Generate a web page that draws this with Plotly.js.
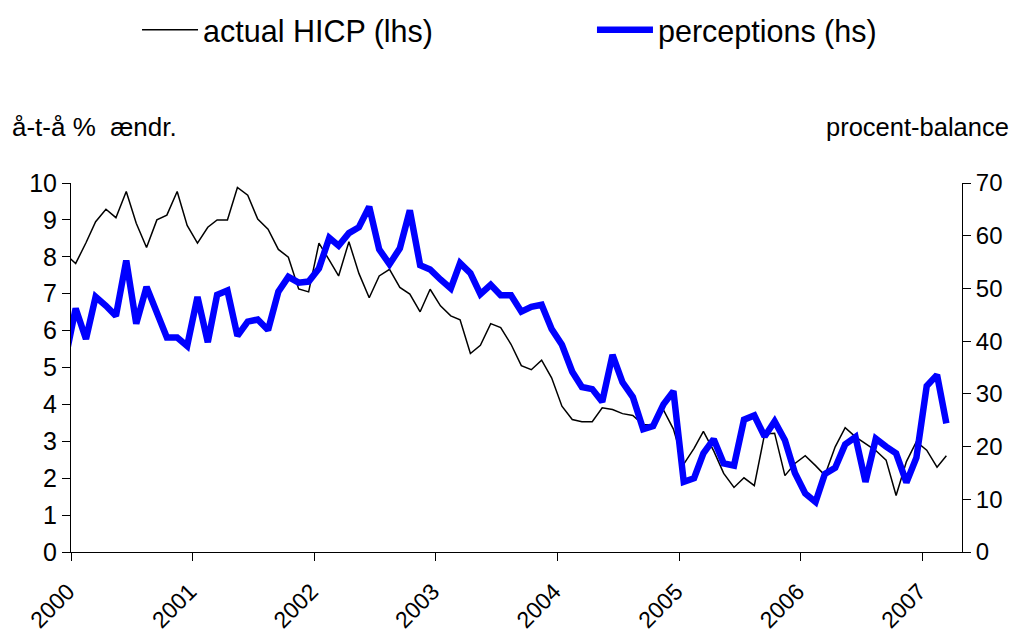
<!DOCTYPE html>
<html>
<head>
<meta charset="utf-8">
<script src="https://cdn.plot.ly/plotly-3.0.1.min.js"></script>
<style>
  html, body { margin: 0; padding: 0; background: #fff; }
  #chart { width: 1011px; height: 635px; }
</style>
</head>
<body>
<div id="chart"></div>
<script>
// Monthly observations (mid-month), Dec 1999 .. Mar 2007
const firstYear = 1999, firstMonth = 12, nMonths = 88;
const months = [];
for (let i = 0; i < nMonths; i++) {
  const m0 = firstMonth - 1 + i;
  const y = firstYear + Math.floor(m0 / 12);
  const m = (m0 % 12) + 1;
  months.push(y + '-' + String(m).padStart(2, '0') + '-15');
}

// actual HICP, y/y % change (left axis)
const hicp = [
  8.07,
  7.82, 8.38, 8.95, 9.29, 9.06, 9.77, 8.91, 8.25, 9.00, 9.13, 9.77, 8.85,
  8.37, 8.80, 9.00, 9.00, 9.88, 9.67, 9.02, 8.75, 8.20, 7.99, 7.13, 7.05,
  8.37, 7.91, 7.48, 8.41, 7.55, 6.89, 7.48, 7.66, 7.17, 6.99, 6.51, 7.12,
  6.67, 6.40, 6.29, 5.38, 5.60, 6.19, 6.08, 5.63, 5.05, 4.94, 5.20, 4.72,
  3.95, 3.59, 3.53, 3.53, 3.91, 3.86, 3.75, 3.70, 3.45, 3.45, 3.85, 3.33,
  2.38, 2.81, 3.27, 2.74, 2.13, 1.75, 2.01, 1.80, 3.20, 3.22, 2.07, 2.40,
  2.61, 2.34, 2.08, 2.85, 3.37, 3.12, 2.95, 2.75, 2.49, 1.53, 2.45, 2.99,
  2.76, 2.30, 2.61
];

// perceived inflation, percent balance (right axis)
const perceptions = [
  36.6,
  46.2, 40.4, 48.4, 46.7, 44.8, 55.3, 43.3, 50.3, 45.6, 40.7, 40.7, 39.1,
  48.4, 39.8, 48.8, 49.6, 41.0, 43.7, 44.1, 42.1, 49.4, 52.2, 51.1, 51.3,
  53.8, 59.6, 58.1, 60.5, 61.6, 65.5, 57.4, 54.6, 57.6, 64.8, 54.4, 53.6,
  51.7, 50.0, 54.8, 52.9, 48.9, 50.7, 48.7, 48.7, 45.6, 46.5, 46.9, 42.3,
  39.3, 34.2, 31.3, 30.9, 28.5, 37.4, 32.2, 29.4, 23.3, 23.9, 28.0, 30.5,
  13.3, 14.0, 18.7, 21.4, 16.8, 16.4, 25.1, 25.9, 21.9, 24.8, 21.2, 15.0,
  11.1, 9.5, 14.8, 16.0, 20.4, 21.8, 13.3, 21.5, 20.0, 18.7, 13.2, 17.9,
  31.5, 33.6, 24.4
];

const yearTicks = ['2000-01-01','2001-01-01','2002-01-01','2003-01-01','2004-01-01','2005-01-01','2006-01-01','2007-01-01'];
const yearLabels = ['2000','2001','2002','2003','2004','2005','2006','2007'];
const leftTicks = [0,1,2,3,4,5,6,7,8,9,10];
const rightTicks = [0,10,20,30,40,50,60,70];

const FONT = 'Arial, "Liberation Sans", Helvetica, sans-serif';

const traces = [
  {
    x: months, y: hicp, name: 'actual HICP (lhs)', type: 'scatter', mode: 'lines',
    line: { color: '#000000', width: 1.5 }, yaxis: 'y', legend: 'legend'
  },
  {
    x: months, y: perceptions, name: 'perceptions (hs)', type: 'scatter', mode: 'lines',
    line: { color: '#0000FF', width: 6.5 }, yaxis: 'y2', legend: 'legend2'
  }
];

const legendBase = {
  orientation: 'h', xanchor: 'left', y: 1.4146, yanchor: 'middle',
  font: { size: 30.5, family: FONT, color: '#000' },
  bgcolor: 'rgba(0,0,0,0)', borderwidth: 0, itemwidth: 56
};

const layout = {
  width: 1011, height: 635,
  margin: { l: 71, r: 49, t: 183, b: 83, autoexpand: false },
  paper_bgcolor: '#ffffff', plot_bgcolor: '#ffffff',
  font: { family: FONT, color: '#000000', size: 25 },
  showlegend: true,
  legend: Object.assign({}, legendBase, { x: 0.0741 }),
  legend2: Object.assign({}, legendBase, { x: 0.5847 }),
  xaxis: {
    type: 'date', range: ['2000-01-01', '2007-05-01'],
    tickmode: 'array', tickvals: yearTicks, ticktext: yearLabels,
    tickangle: -45, ticks: 'outside', ticklen: 8, tickwidth: 1, tickcolor: '#000',
    ticklabelstandoff: 8, ticklabelshift: -3,
    showline: true, linecolor: '#000', linewidth: 1, showgrid: false, zeroline: false,
    tickfont: { size: 23, family: FONT, color: '#000' }, fixedrange: true
  },
  yaxis: {
    range: [0, 10], tickmode: 'array', tickvals: leftTicks,
    ticks: 'outside', ticklen: 8, tickwidth: 1, tickcolor: '#000',
    showline: true, linecolor: '#000', linewidth: 1, showgrid: false, zeroline: false,
    tickfont: { size: 25, family: FONT, color: '#000' }, fixedrange: true
  },
  yaxis2: {
    range: [0, 70], tickmode: 'array', tickvals: rightTicks,
    overlaying: 'y', side: 'right',
    ticks: 'outside', ticklen: 8, tickwidth: 1, tickcolor: '#000',
    showline: true, linecolor: '#000', linewidth: 1, showgrid: false, zeroline: false,
    tickfont: { size: 24, family: FONT, color: '#000' }, fixedrange: true
  },
  annotations: [
    {
      xref: 'paper', yref: 'paper', x: -0.069, y: 1.153, xanchor: 'left', yanchor: 'middle',
      text: 'å-t-å %\u00a0\u00a0ændr.', showarrow: false,
      font: { size: 26, family: FONT, color: '#000' }
    },
    {
      xref: 'paper', yref: 'paper', x: 1.0555, y: 1.153, xanchor: 'right', yanchor: 'middle',
      text: 'procent-balance', showarrow: false,
      font: { size: 25.5, family: FONT, color: '#000' }
    }
  ]
};

Plotly.newPlot('chart', traces, layout, { displayModeBar: false, staticPlot: true });
</script>
</body>
</html>
